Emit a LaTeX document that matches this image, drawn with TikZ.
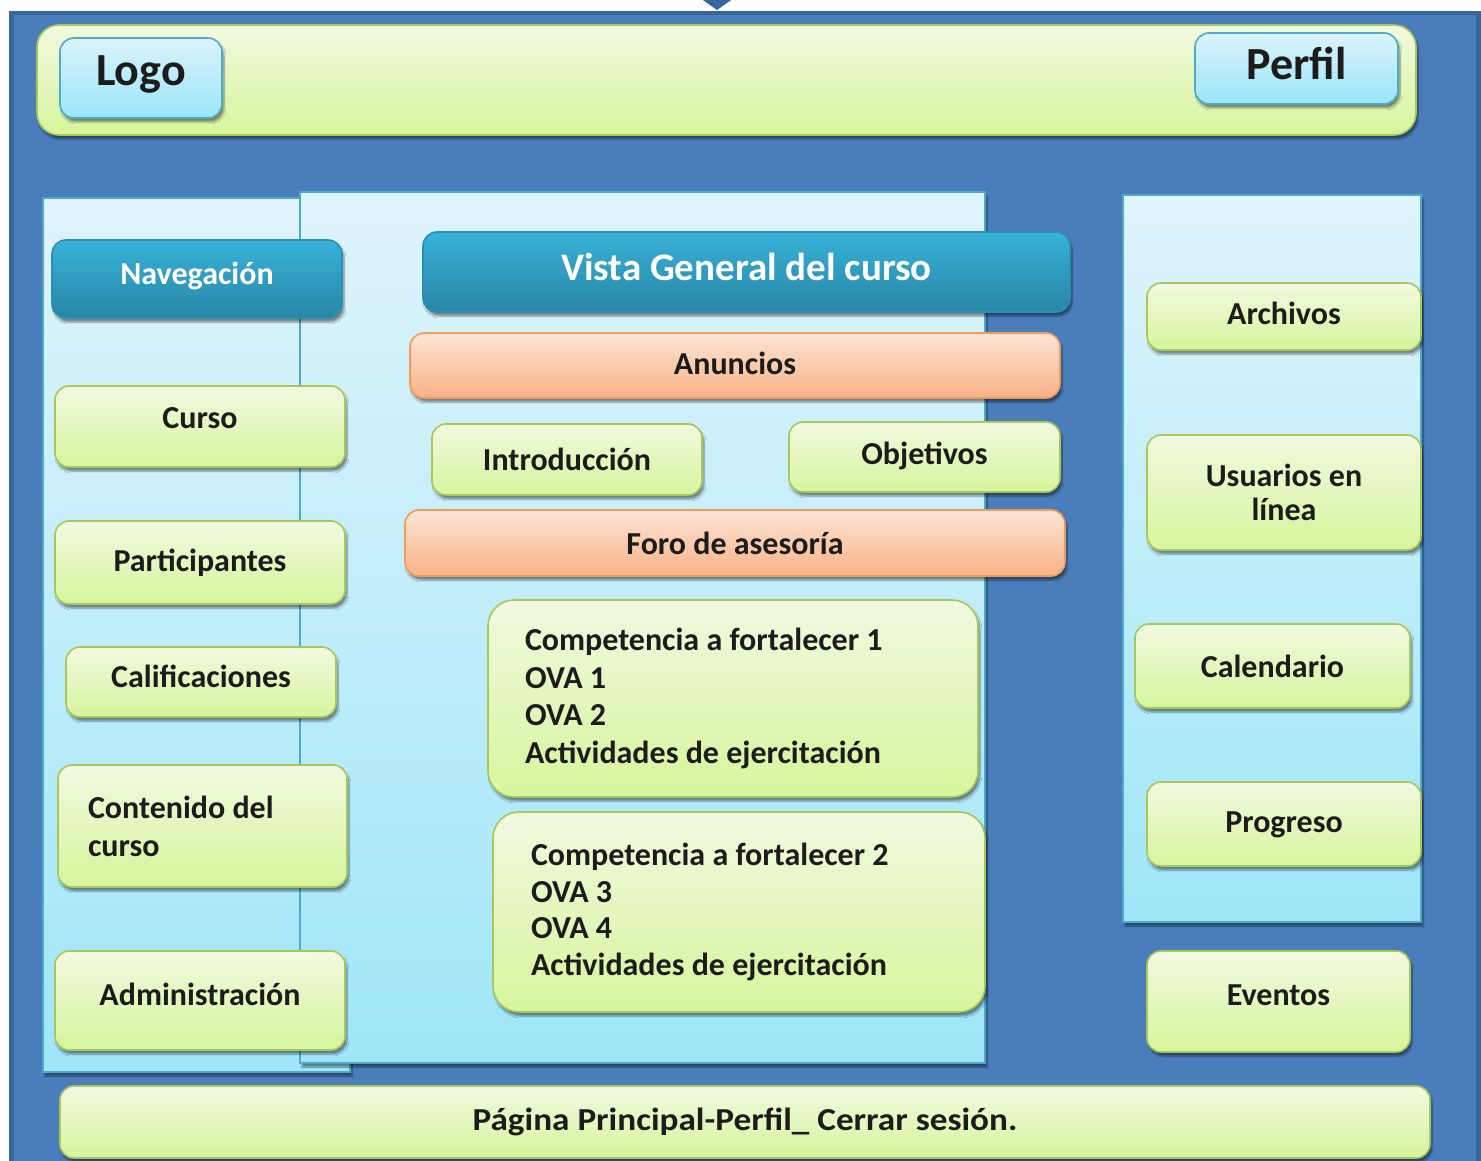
\documentclass[tikz,border=0pt]{standalone}
\usepackage{fontspec}
\setmainfont{Carlito}
\newfontfamily\widefont{Carlito}[FakeStretch=1.1]
\usetikzlibrary{shadows.blur}
\definecolor{bgblue}{HTML}{4A7EBB}
\definecolor{bgedge}{HTML}{38659A}
\definecolor{gtop}{HTML}{F1F9E0}
\definecolor{gbot}{HTML}{D6F59C}
\definecolor{gline}{HTML}{A9C65A}
\definecolor{ctop}{HTML}{DBF3FC}
\definecolor{cbot}{HTML}{9AE5F8}
\definecolor{cline}{HTML}{4DAACB}
\definecolor{ttop}{HTML}{38B2D8}
\definecolor{tbot}{HTML}{2886A6}
\definecolor{tline}{HTML}{2A90B2}
\definecolor{otop}{HTML}{FCE5D5}
\definecolor{obot}{HTML}{F8B286}
\definecolor{oline}{HTML}{F29A58}
\definecolor{ptop}{HTML}{DFF4FC}
\definecolor{pbot}{HTML}{9FE6F8}
\definecolor{pline}{HTML}{4FA9C9}
\definecolor{txt}{HTML}{1C1C1C}
\tikzset{
  shd/.style={blur shadow={shadow xshift=2pt,shadow yshift=-4pt,shadow blur steps=6,shadow opacity=45}},
  basebox/.style={rounded corners=14pt,line width=1.6pt,inner sep=0pt,font=\bfseries\fontsize{32}{37.5}\selectfont,text=txt,shd},
  gbox/.style={basebox,draw=gline,top color=gtop,bottom color=gbot},
  obox/.style={basebox,draw=oline,top color=otop,bottom color=obot},
  tbox/.style={basebox,draw=tline,top color=ttop,bottom color=tbot,text=white},
  cbox/.style={basebox,draw=cline,top color=ctop,bottom color=cbot,font=\bfseries\fontsize{46}{52}\selectfont},
  panel/.style={draw=pline,line width=1.6pt,top color=ptop,bottom color=pbot,inner sep=0pt,shd},
  lift/.style={text depth=#1},
}
\begin{document}
\begin{tikzpicture}[x=1pt,y=-1pt]
\useasboundingbox (0,0) rectangle (1481,1161);
\fill[white] (0,0) rectangle (1481,1161);
% background
\fill[bgedge] (9,11) rectangle (1481,1161);
\fill[bgblue] (14,15) rectangle (1476,1161);
\fill[bgedge] (700,-2) -- (734,-2) -- (717,10) -- cycle;
% top bar
\node[gbox,rounded corners=22pt,minimum width=1379pt,minimum height=110pt] (topbar) at (726.5,80) {};
\node[cbox,minimum width=162pt,minimum height=80pt,lift=14pt] (logo) at (141,78) {Logo};
\node[cbox,minimum width=203pt,minimum height=71pt,lift=10pt] (perfil) at (1296.5,68.5) {Perfil};
% panels
\node[panel,minimum width=307pt,minimum height=874pt] (leftpanel) at (196.5,635) {};
\node[panel,minimum width=685pt,minimum height=871pt] (centerpanel) at (642.5,627.5) {};
\node[panel,minimum width=298pt,minimum height=727pt] (rightpanel) at (1272,558.5) {};
% left column
\node[tbox,minimum width=290pt,minimum height=78pt,lift=12pt] (nav) at (197,279) {Navegación};
\node[gbox,minimum width=290pt,minimum height=81pt,lift=16pt] (curso) at (200,426.5) {Curso};
\node[gbox,minimum width=290pt,minimum height=83pt] (partic) at (200,562.5) {Participantes};
\node[gbox,minimum width=270pt,minimum height=70pt,lift=12pt] (calif) at (201,682) {Calificaciones};
\node[gbox,minimum width=289pt,minimum height=122pt,text width=229pt,align=flush left,font=\bfseries\fontsize{32}{38}\selectfont] (contenido) at (202.5,826) {Contenido del\\curso};
\node[gbox,minimum width=290pt,minimum height=99pt,lift=12pt] (admin) at (200,1000.5) {Administración};
% center column
\node[tbox,minimum width=647pt,minimum height=80pt,font=\bfseries\fontsize{39}{44}\selectfont,lift=10pt] (vista) at (746.5,272) {Vista General del curso};
\node[obox,minimum width=650pt,minimum height=65pt,lift=4pt] (anuncios) at (735,365.5) {Anuncios};
\node[gbox,minimum width=270pt,minimum height=71pt] (intro) at (567,459.5) {Introducción};
\node[gbox,minimum width=271pt,minimum height=70pt,lift=8pt] (obj) at (924.5,457) {Objetivos};
\node[obox,minimum width=660pt,minimum height=66pt] (foro) at (735,543) {Foro de asesoría};
\node[gbox,rounded corners=26pt,minimum width=490pt,minimum height=197pt,text width=416pt,align=flush left] (comp1) at (733,698.5) {Competencia a fortalecer 1\\OVA 1\\OVA 2\\Actividades de ejercitación};
\node[gbox,rounded corners=26pt,minimum width=492pt,minimum height=200pt,text width=416pt,align=flush left,font=\bfseries\fontsize{32}{36.5}\selectfont] (comp2) at (739,912) {Competencia a fortalecer 2\\OVA 3\\OVA 4\\Actividades de ejercitación};
% right column
\node[gbox,minimum width=274pt,minimum height=67pt,lift=6pt] (archivos) at (1284,316.5) {Archivos};
\node[gbox,minimum width=274pt,minimum height=115pt,align=flush center,font=\bfseries\fontsize{32}{34}\selectfont] (usuarios) at (1284,492.5) {Usuarios en\\línea};
\node[gbox,minimum width=275pt,minimum height=84pt] (calendario) at (1272.5,666) {Calendario};
\node[gbox,minimum width=274pt,minimum height=84pt,lift=4pt] (progreso) at (1284,824) {Progreso};
\node[gbox,minimum width=263pt,minimum height=101pt,lift=12pt] (eventos) at (1278.5,1001.5) {Eventos};
% bottom bar
\node[gbox,minimum width=1370pt,minimum height=72pt,font=\widefont\bfseries\fontsize{32}{37}\selectfont,lift=6pt] (pagina) at (745,1122) {Página Principal-Perfil\_ Cerrar sesión.};
\end{tikzpicture}
\end{document}
